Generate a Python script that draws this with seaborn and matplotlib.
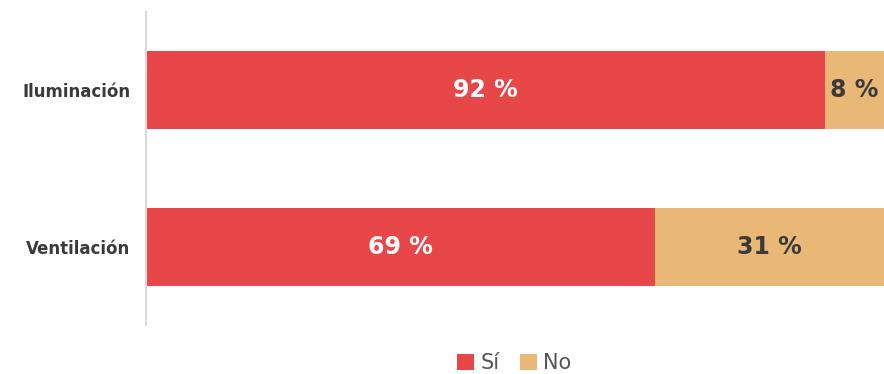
import pandas as pd
import matplotlib.pyplot as plt
import seaborn as sns

categories = ["Iluminación", "Ventilación"]
si = [92, 69]
no = [8, 31]

df = pd.DataFrame({"cat": categories, "si": si, "no": no})
df["total"] = df["si"] + df["no"]

red = "#E8474A"
tan = "#E9B877"
dark = "#3A3A3A"

sns.set_style("white")
plt.rcParams["font.family"] = ["DejaVu Sans"]

fig = plt.figure(figsize=(8.84, 3.74), dpi=100)
ax = fig.add_axes([0.165, 0.131, 0.835, 0.837])

sns.barplot(data=df, y="cat", x="total", color=tan, orient="h", width=0.5, ax=ax,
            saturation=1, label="No", linewidth=0)
sns.barplot(data=df, y="cat", x="si", color=red, orient="h", width=0.5, ax=ax,
            saturation=1, label="Sí", linewidth=0)

for i, (s, n) in enumerate(zip(si, no)):
    ax.text(s / 2, i, f"{s} %", ha="center", va="center", color="white",
            fontsize=17, fontweight="bold")
    ax.text(s + n / 2, i, f"{n} %", ha="center", va="center", color=dark,
            fontsize=17, fontweight="bold")

ax.set_xlim(0, 100)
ax.set_ylim(1.5, -0.5)
ax.set_xlabel("")
ax.set_ylabel("")
ax.set_xticks([])
ax.tick_params(axis="y", length=0, pad=11)
for lab in ax.get_yticklabels():
    lab.set_fontsize(12)
    lab.set_fontweight("bold")
    lab.set_color(dark)
for side in ["top", "right", "bottom"]:
    ax.spines[side].set_visible(False)
ax.spines["left"].set_color("#D9D9D9")
ax.spines["left"].set_linewidth(1.5)

handles, labels = ax.get_legend_handles_labels()
order = [labels.index("Sí"), labels.index("No")]
fig.legend([handles[k] for k in order], [labels[k] for k in order],
           loc="center", bbox_to_anchor=(0.582, 0.03), ncol=2, frameon=False,
           fontsize=15, handlelength=0.8, handleheight=0.8, handletextpad=0.3,
           columnspacing=1.0, labelcolor="#555555")
if ax.legend_:
    ax.legend_.remove()

fig.savefig("out.png", dpi=100)
